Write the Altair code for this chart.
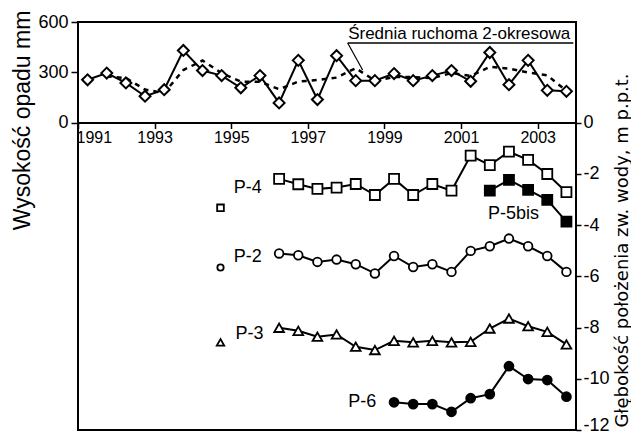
import altair as alt
import pandas as pd

# ---------------- data ----------------
precip_start = 1991.25          # first half-year period
precip = [255, 295, 236, 157, 196, 430, 310, 280, 207, 280, 117, 371, 137,
          399, 250, 250, 292, 250, 280, 310, 246, 418, 226, 371, 192, 186]

well_start = {"P-4": 1996.25, "P-2": 1996.25, "P-3": 1996.25,
              "P-5bis": 2001.75, "P-6": 1999.25}
p4 = [-2.20, -2.41, -2.59, -2.54, -2.40, -2.83, -2.20, -2.83, -2.40, -2.66,
      -1.29, -1.66, -1.14, -1.46, -2.01, -2.72]
p2 = [-5.11, -5.18, -5.44, -5.35, -5.53, -5.89, -5.21, -5.64, -5.53, -5.83,
      -5.01, -4.83, -4.53, -4.83, -5.21, -5.83]
p3 = [-8.01, -8.13, -8.36, -8.27, -8.75, -8.88, -8.52, -8.58, -8.52, -8.58,
      -8.56, -8.04, -7.65, -7.95, -8.17, -8.66]
p5bis = [-2.66, -2.24, -2.63, -3.02, -3.87]
p6 = [-10.92, -10.99, -10.99, -11.29, -10.76, -10.60, -9.51, -10.01, -10.05, -10.70]

year_ticks = [1991, 1993, 1995, 1997, 1999, 2001, 2003]
precip_ticks = [0, 300, 600]
depth_ticks = [0, -2, -4, -6, -8, -10, -12]

# labels / annotations
well_labels = ["P-4", "P-2", "P-3", "P-6", "P-5bis"]
well_label_t = [1995.43, 1995.43, 1995.48, 1998.42, 2002.37]
well_label_d = [-2.55, -5.23, -8.27, -10.91, -3.56]
legend_t = 1994.72
legend_d = {"P-4": -3.33, "P-2": -5.66, "P-3": -8.58}

ma_text = "Średnia ruchoma 2-okresowa"
ma_text_pos = (2000.95, 528)
ma_underline = (1998.04, 2003.93, 475)
ma_leader = (1998.04, 475, 1998.43, 313)

# ---------------- layout ----------------
PLOT_W, PLOT_H = 498, 408
ZERO_Y = 100.5                          # pixel distance of the 0 line from top
precip_dom = [600 - 600 * PLOT_H / ZERO_Y, 600]
depth_dom = [-12, 12 * ZERO_Y / (PLOT_H - ZERO_Y)]
FONT = "Liberation Sans"

# ---------------- tables ----------------
df_p = pd.DataFrame({"t": [precip_start + 0.5 * i for i in range(len(precip))],
                     "precip": precip})
series = {"P-4": p4, "P-2": p2, "P-3": p3, "P-5bis": p5bis, "P-6": p6}
rows = []
for name, vals in series.items():
    for i, v in enumerate(vals):
        rows.append({"t": well_start[name] + 0.5 * i, "depth": v, "series": name})
df_w = pd.DataFrame(rows)

X = alt.X("t:Q",
          scale=alt.Scale(domain=[1991, 2004], nice=False, zero=False),
          axis=alt.Axis(values=year_ticks, format="d", title=None, grid=False,
                        offset=-(PLOT_H - ZERO_Y), tickSize=6, tickWidth=1.5,
                        tickColor="black", domainColor="black", domainWidth=2,
                        labelFont=FONT, labelFontSize=16, labelColor="black",
                        labelPadding=1, labelFlush=True, labelFlushOffset=2,
                        labelOverlap=False))

YP = alt.Y("precip:Q",
           scale=alt.Scale(domain=precip_dom, nice=False, zero=False),
           axis=alt.Axis(orient="left", values=precip_ticks, grid=False, domain=False,
                         tickSize=7, tickWidth=1.5, tickColor="black",
                         labelFont=FONT, labelFontSize=18, labelColor="black",
                         labelPadding=3,
                         title="Wysokość opadu mm", titleFont=FONT, titleFontSize=23,
                         titleFontWeight="normal", titleColor="black",
                         titleAngle=270, titleAlign="center", titleBaseline="middle",
                         titleX=-56, titleY=98))

YD = alt.Y("depth:Q",
           scale=alt.Scale(domain=depth_dom, nice=False, zero=False),
           axis=alt.Axis(orient="right", values=depth_ticks, grid=False, domain=False,
                         tickSize=5, tickWidth=1.5, tickColor="black",
                         labelFont=FONT, labelFontSize=18, labelColor="black",
                         labelPadding=2, labelExpr="'' + datum.value",
                         labelFlush=True, labelFlushOffset=4,
                         title="Głębokość położenia zw. wody, m p.p.t.",
                         titleFont="DejaVu Sans", titleFontSize=18,
                         titleFontWeight="normal",
                         titleColor="black", titleAngle=270, titleAlign="center",
                         titleBaseline="middle", titleX=46, titleY=228))

# ---------------- precipitation panel ----------------
base_p = alt.Chart(df_p)
p_line = base_p.mark_line(color="black", strokeWidth=2).encode(x=X, y=YP)
p_ma = base_p.transform_window(
    ma="mean(precip)", n="count()", frame=[-1, 0], sort=[{"field": "t"}]
).transform_filter("datum.n == 2").transform_calculate(
    precip="datum.ma"
).mark_line(color="black", strokeWidth=2.5, strokeDash=[5, 5]).encode(x=X, y=YP)
p_pts = base_p.mark_point(shape="diamond", size=120, filled=True, fill="white",
                          stroke="black", strokeWidth=2, opacity=1).encode(x=X, y=YP)

ann = pd.DataFrame({"t": [ma_text_pos[0]], "precip": [ma_text_pos[1]], "txt": [ma_text]})
p_text = alt.Chart(ann).mark_text(font=FONT, fontSize=17, color="black",
                                  align="center", baseline="middle").encode(
    x=X, y=YP, text="txt:N")
ul = pd.DataFrame({"t": [ma_underline[0]], "t2": [ma_underline[1]],
                   "precip": [ma_underline[2]]})
p_ul = alt.Chart(ul).mark_rule(color="black", strokeWidth=1.5).encode(
    x=X, x2="t2:Q", y=YP)
ld = pd.DataFrame({"t": [ma_leader[0]], "precip": [ma_leader[1]],
                   "t2": [ma_leader[2]], "p2": [ma_leader[3]]})
p_ld = alt.Chart(ld).mark_rule(color="black", strokeWidth=1.2).encode(
    x=X, y=YP, x2="t2:Q", y2="p2:Q")

precip_layer = alt.layer(p_ma, p_line, p_pts, p_ul, p_ld, p_text)

# ---------------- groundwater panel ----------------
w_lines = alt.Chart(df_w).mark_line(color="black", strokeWidth=2).encode(
    x=X, y=YD, detail="series:N")

def pts(name, shape, size, filled):
    d = df_w[df_w.series == name]
    return alt.Chart(d).mark_point(shape=shape, size=size, filled=True,
                                   fill="black" if filled else "white",
                                   stroke="black", strokeWidth=1.8,
                                   opacity=1).encode(x=X, y=YD)

w_pts = [pts("P-4", "square", 100, False), pts("P-2", "circle", 75, False),
         pts("P-3", "triangle-up", 95, False), pts("P-5bis", "square", 100, True),
         pts("P-6", "circle", 80, True)]

lab = pd.DataFrame({"t": well_label_t, "depth": well_label_d, "txt": well_labels})
w_text = alt.Chart(lab).mark_text(font=FONT, fontSize=18, color="black",
                                  align="center", baseline="middle").encode(
    x=X, y=YD, text="txt:N")

leg_shapes = {"P-4": ("square", 45), "P-2": ("circle", 40), "P-3": ("triangle-up", 55)}
leg = []
for name, (shape, size) in leg_shapes.items():
    d = pd.DataFrame({"t": [legend_t], "depth": [legend_d[name]]})
    leg.append(alt.Chart(d).mark_point(shape=shape, size=size, filled=True,
                                       fill="white", stroke="black",
                                       strokeWidth=1.8, opacity=1).encode(x=X, y=YD))

depth_layer = alt.layer(w_lines, *w_pts, w_text, *leg)

chart = alt.layer(precip_layer, depth_layer).resolve_scale(y="independent").properties(
    width=PLOT_W, height=PLOT_H,
    autosize=alt.AutoSizeParams(type="none"),
    padding={"left": 70, "top": 14, "right": 55, "bottom": 5},
    background="white",
).configure_view(stroke="black", strokeWidth=2)

chart.save("out.html", embed_options={"renderer": "svg", "actions": False})
